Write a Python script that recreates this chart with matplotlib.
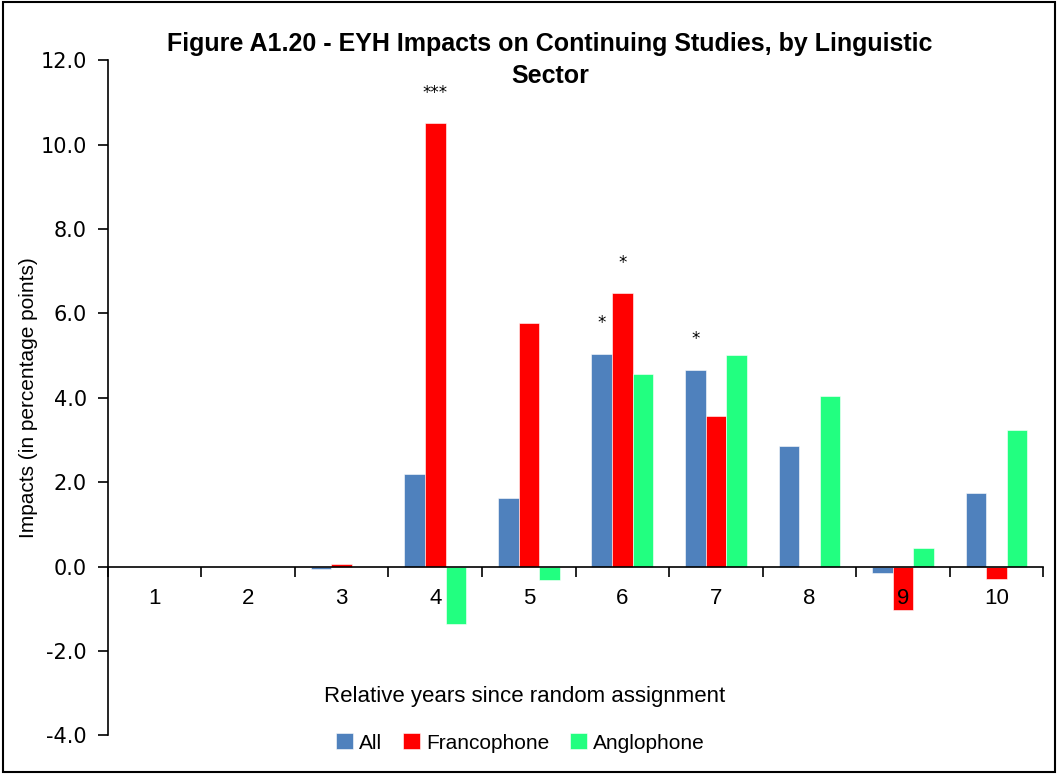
import numpy as np
import matplotlib
matplotlib.use('Agg')
import matplotlib.pyplot as plt
from matplotlib.patches import Rectangle

plt.rcParams['font.family'] = ['Liberation Sans Narrow', 'Liberation Sans', 'DejaVu Sans']

years = ['1', '2', '3', '4', '5', '6', '7', '8', '9', '10']
all_vals = [0.0, 0.0, -0.05, 2.2, 1.63, 5.05, 4.67, 2.87, -0.16, 1.75]
franco_vals = [0.0, 0.0, 0.05, 10.52, 5.78, 6.48, 3.57, 0.0, -1.04, -0.29]
anglo_vals = [0.0, 0.0, 0.0, -1.37, -0.33, 4.57, 5.02, 4.05, 0.44, 3.24]
series_names = ['All', 'Francophone', 'Anglophone']
colors = ['#4F81BD', '#FF0000', '#22FF80']
# significance stars: (year index, series index, text)
stars = [(3, 1, '***'), (5, 0, '*'), (5, 1, '*'), (6, 0, '*')]

fig = plt.figure(figsize=(10.58, 7.74), dpi=100)
ax = fig.add_axes([0.102, 0.050, 0.884, 0.872])

x = np.arange(len(years))
w = 0.22
data = [all_vals, franco_vals, anglo_vals]
for i, (vals, name, c) in enumerate(zip(data, series_names, colors)):
    ax.bar(x + (i - 1) * w, vals, width=w, color=c, label=name,
           edgecolor='white', linewidth=0.4, zorder=2)

for yi, si, txt in stars:
    v = data[si][yi]
    ax.text(x[yi] + (si - 1) * w, v + 0.5, txt, ha='center', va='bottom',
            fontsize=12, family='DejaVu Sans')

ax.set_xlim(-0.5, len(years) - 0.5)
ax.set_ylim(-4, 12)
ax.set_yticks(np.arange(-4, 12.1, 2))
ax.set_yticklabels([f'{v:.1f}' for v in np.arange(-4, 12.1, 2)],
                   family='DejaVu Sans', fontsize=15)
ax.tick_params(axis='y', direction='out', length=7, width=1.2, pad=8)

# category labels below zero line, ticks on boundaries
ax.set_xticks(np.arange(-0.5, len(years)), minor=False)
ax.set_xticklabels([])
ax.tick_params(axis='x', direction='out', length=7, width=1.2)
for xi, lab in zip(x, years):
    ax.text(xi, -0.5, lab, ha='center', va='top', fontsize=16)

ax.spines['top'].set_visible(False)
ax.spines['right'].set_visible(False)
ax.spines['bottom'].set_position(('data', 0))
ax.spines['bottom'].set_linewidth(1.2)
ax.spines['left'].set_linewidth(1.2)

ax.set_ylabel('Impacts (in percentage points)', fontsize=15, labelpad=2)

fig.text(0.496, 0.100, 'Relative years since random assignment',
         ha='center', va='center', fontsize=16)
fig.text(0.520, 0.943,
         'Figure A1.20 - EYH Impacts on Continuing Studies, by Linguistic',
         ha='center', va='center', fontsize=18, fontweight='bold')
fig.text(0.520, 0.902, 'Sector',
         ha='center', va='center', fontsize=18, fontweight='bold')

fig.legend(loc='center', bbox_to_anchor=(0.492, 0.040), ncol=3, frameon=False,
           fontsize=15, handlelength=0.8, handleheight=0.8, handletextpad=0.3,
           columnspacing=1.0)

fig.patches.append(Rectangle((0.003, 0.003), 0.994, 0.994, transform=fig.transFigure,
                             fill=False, edgecolor='black', linewidth=1.5))

fig.savefig('out.png', dpi=100, facecolor='white')
